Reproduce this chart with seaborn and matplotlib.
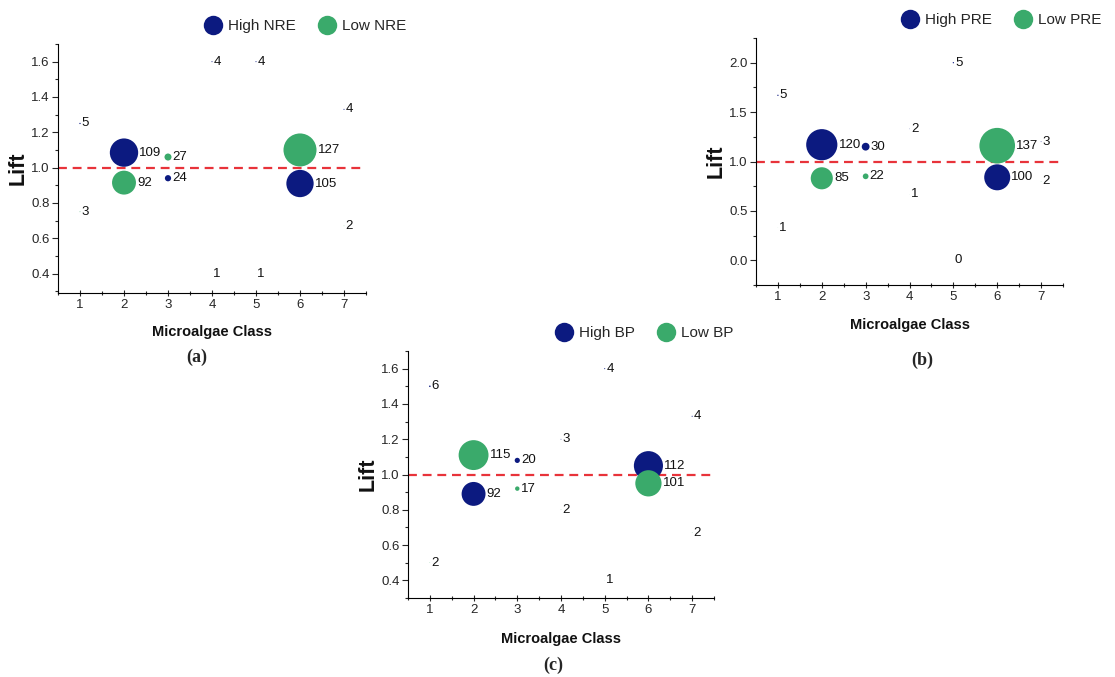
import numpy as np
import pandas as pd
import matplotlib
matplotlib.use("Agg")
import matplotlib.pyplot as plt
from matplotlib.lines import Line2D
from matplotlib.ticker import MultipleLocator
import seaborn as sns

sns.set_theme(style="white")
plt.rcParams['font.family'] = ['Liberation Sans', 'DejaVu Sans']

# ---------------- data ----------------
classes = [1, 2, 3, 4, 5, 6, 7]

# Panel (a) NRE
nre_high_lift = [1.25, 1.085, 0.94, 1.60, 1.60, 0.91, 1.33]
nre_high_count = [5, 109, 24, 4, 4, 105, 4]
nre_low_lift = [0.75, 0.915, 1.06, 0.40, 0.40, 1.10, 0.67]
nre_low_count = [3, 92, 27, 1, 1, 127, 2]

# Panel (b) PRE
pre_high_lift = [1.67, 1.17, 1.15, 1.33, 2.00, 0.84, 1.20]
pre_high_count = [5, 120, 30, 2, 5, 100, 3]
pre_low_lift = [0.33, 0.83, 0.85, 0.67, 0.00, 1.16, 0.80]
pre_low_count = [1, 85, 22, 1, 0, 137, 2]

# Panel (c) BP
bp_high_lift = [1.50, 0.89, 1.08, 1.20, 1.60, 1.05, 1.33]
bp_high_count = [6, 92, 20, 3, 4, 112, 4]
bp_low_lift = [0.50, 1.11, 0.92, 0.80, 0.40, 0.95, 0.67]
bp_low_count = [2, 115, 17, 2, 1, 101, 2]

HIGH_COLOR = "#0c1a80"
LOW_COLOR = "#3aaa6b"
LINE_COLOR = "#e8333a"

W, H = 1115, 677
fig = plt.figure(figsize=(W / 100, H / 100), dpi=100)


def px_axes(left, top, right, bottom):
    return fig.add_axes([left / W, 1 - bottom / H, (right - left) / W, (bottom - top) / H])


DIAM_PT_PER_COUNT = 0.26 * 0.72  # bubble diameter (points) per count


def panel(ax, metric, hl, hc, ll, lc, ylim, ymajor, yminor, xlab_y, ylab_x):
    df = pd.DataFrame({
        "cls": classes + classes,
        "lift": hl + ll,
        "count": hc + lc,
        "group": [f"High {metric}"] * len(classes) + [f"Low {metric}"] * len(classes),
    })
    sizes = {c: (DIAM_PT_PER_COUNT * c) ** 2 for c in df["count"].unique()}
    sns.scatterplot(data=df, x="cls", y="lift", hue="group", size="count",
                    sizes=sizes,
                    palette={f"High {metric}": HIGH_COLOR, f"Low {metric}": LOW_COLOR},
                    linewidth=0, legend=False, ax=ax, zorder=3)
    ax.axhline(1.0, color=LINE_COLOR, lw=1.6, ls=(0, (4, 2.6)), zorder=2)
    for _, r in df.iterrows():
        rad = DIAM_PT_PER_COUNT * r["count"] / 2
        ax.annotate(str(int(r["count"])), (r["cls"], r["lift"]),
                    xytext=(rad + 0.8, 0), textcoords="offset points",
                    ha="left", va="center", fontsize=9.5, color="#111111", zorder=4)
    ax.set_xlim(0.5, 7.5)
    ax.set_ylim(*ylim)
    ax.xaxis.set_major_locator(MultipleLocator(1))
    ax.xaxis.set_minor_locator(MultipleLocator(0.5))
    ax.yaxis.set_major_locator(MultipleLocator(ymajor))
    ax.yaxis.set_minor_locator(MultipleLocator(yminor))
    ax.tick_params(axis="x", which="major", direction="inout", length=5, width=0.8,
                   labelsize=9.5, pad=2, bottom=True)
    ax.tick_params(axis="x", which="minor", direction="inout", length=3, width=0.8, bottom=True)
    ax.tick_params(axis="y", which="major", direction="out", length=4, width=0.8,
                   labelsize=9.5, pad=2, left=True)
    ax.tick_params(axis="y", which="minor", direction="out", length=2, width=0.8, left=True)
    for s in ["top", "right"]:
        ax.spines[s].set_visible(False)
    for s in ["left", "bottom"]:
        ax.spines[s].set_color("black")
        ax.spines[s].set_linewidth(0.8)
    ax.set_xlabel("Microalgae Class", fontsize=10.5, fontweight="bold", color="#111111")
    ax.set_ylabel("Lift", fontsize=15.5, fontweight="bold", color="#111111")
    ax.xaxis.set_label_coords(0.5, xlab_y)
    ax.xaxis.label.set_va("center")
    ax.yaxis.set_label_coords(ylab_x, 0.5)
    ax.set_facecolor("white")
    ax.grid(False)


def legend(metric, cx, cy):
    handles = [
        Line2D([], [], marker="o", ls="none", markersize=14, markerfacecolor=HIGH_COLOR,
               markeredgewidth=0, label=f"High {metric}"),
        Line2D([], [], marker="o", ls="none", markersize=14, markerfacecolor=LOW_COLOR,
               markeredgewidth=0, label=f"Low {metric}"),
    ]
    fig.legend(handles=handles, loc="center", bbox_to_anchor=(cx / W, 1 - cy / H),
               ncol=2, frameon=False, fontsize=11, handletextpad=0.4,
               columnspacing=1.4, handlelength=1.2, borderpad=0)


ax_a = px_axes(58, 44, 366, 293)
panel(ax_a, "NRE", nre_high_lift, nre_high_count, nre_low_lift, nre_low_count,
      (0.29, 1.70), 0.2, 0.1, -0.157, -0.095)
legend("NRE", 305, 26)

ax_b = px_axes(756, 38, 1063, 285)
panel(ax_b, "PRE", pre_high_lift, pre_high_count, pre_low_lift, pre_low_count,
      (-0.25, 2.25), 0.5, 0.25, -0.162, -0.095)
legend("PRE", 1001, 20)

ax_c = px_axes(408, 351, 714, 598)
panel(ax_c, "BP", bp_high_lift, bp_high_count, bp_low_lift, bp_low_count,
      (0.30, 1.70), 0.2, 0.1, -0.166, -0.095)
legend("BP", 644, 333)

for lab, x, y in [("(a)", 197, 357), ("(b)", 922, 360), ("(c)", 553, 665)]:
    fig.text(x / W, 1 - y / H, lab, ha="center", va="center", fontsize=13,
             fontweight="bold", family=["Liberation Serif", "DejaVu Serif"])

fig.savefig("out.png", dpi=100, facecolor="white")
